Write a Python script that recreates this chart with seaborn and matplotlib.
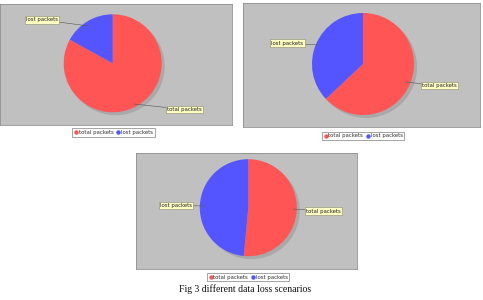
import matplotlib
matplotlib.use("Agg")
import matplotlib.pyplot as plt
from matplotlib.lines import Line2D
from matplotlib.patches import Circle
import seaborn as sns

# ---- data ----
categories = ["total packets", "lost packets"]
scenario1 = [83, 17]
scenario2 = [63, 37]
scenario3 = [51.5, 48.5]
caption = "Fig 3 different data loss scenarios"

sns.set_theme(style="white")
plt.rcParams['font.family'] = ['DejaVu Sans']
colors = ["#FF5555", "#5555FF"]

W, H = 483, 300
fig = plt.figure(figsize=(W / 100, H / 100), dpi=100)
fig.patch.set_facecolor("white")

# layout in pixels
panels = [
    dict(data=scenario1, box=(0, 4, 232, 125), center=(112.7, 63.3), r=49,
         labels=[((184.5, 109.5), (134, 104)), ((42, 20), (89, 26))],
         legend=(113.5, 132.5)),
    dict(data=scenario2, box=(243, 3, 480, 127), center=(363, 64), r=51,
         labels=[((439.5, 85.5), (405, 82)), ((287.5, 43), (318, 45))],
         legend=(363, 136)),
    dict(data=scenario3, box=(136, 153, 357, 269), center=(248.3, 207.7), r=48.5,
         labels=[((323.5, 211), (293, 209)), ((176, 205.5), (205, 206))],
         legend=(248, 277)),
]

for p in panels:
    x0, y0, x1, y1 = p["box"]
    w, h = x1 - x0, y1 - y0
    ax = fig.add_axes([x0 / W, 1 - y1 / H, w / W, h / H])
    ax.set_facecolor("#C0C0C0")

    def tr(pt):
        return (pt[0] - x0, y1 - pt[1])

    c = tr(p["center"])
    ax.add_patch(Circle((c[0] + 3, c[1] - 3), p["r"], color="#A9A9A9", zorder=1, lw=0))
    wedges, _ = ax.pie(p["data"], colors=colors, startangle=90, counterclock=False,
                       center=c, radius=p["r"], frame=True,
                       wedgeprops=dict(linewidth=0, zorder=2))
    ax.set_xlim(0, w)
    ax.set_ylim(0, h)
    ax.set_aspect("auto")
    ax.set_xticks([])
    ax.set_yticks([])
    for s in ax.spines.values():
        s.set_color("#909090")
        s.set_linewidth(0.6)

    for name, (lab, pt) in zip(categories, p["labels"]):
        ax.annotate(name, xy=tr(pt), xytext=tr(lab), ha="center", va="center",
                    fontsize=3.9, color="#222222", zorder=5,
                    bbox=dict(boxstyle="square,pad=0.2", fc="#FFFFC4", ec="#8A8A70", lw=0.4),
                    arrowprops=dict(arrowstyle="-", color="#555555", lw=0.4,
                                    shrinkA=0, shrinkB=0))

    handles = [Line2D([], [], marker="o", ls="", color=col, markersize=2.2)
               for col in colors]
    lx, ly = p["legend"]
    fig.legend(handles, categories, loc="center",
               bbox_to_anchor=(lx / W, 1 - ly / H), ncol=2, fontsize=3.9,
               frameon=True, fancybox=False, edgecolor="#808080",
               framealpha=1, borderpad=0.3, handletextpad=0.1,
               columnspacing=0.5, handlelength=0.8,
               labelcolor="#333333").get_frame().set_linewidth(0.5)

fig.text(245 / W, 1 - 289 / H, caption, ha="center", va="center",
         fontsize=7.0, family=["Liberation Serif", "DejaVu Serif"], color="#111111")

fig.savefig("out.png", dpi=100)
